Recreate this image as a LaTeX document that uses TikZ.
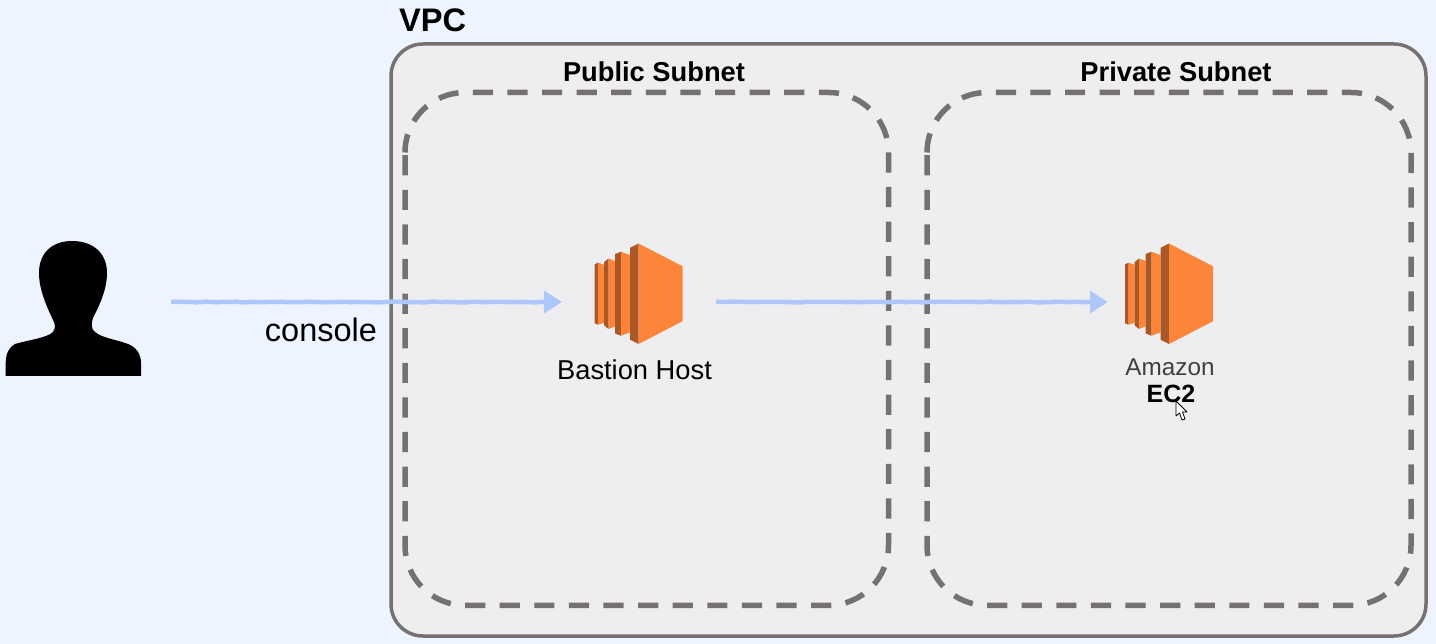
\documentclass[tikz,border=0pt]{standalone}
\usepackage{fontspec}
\setmainfont{Liberation Sans}
\usetikzlibrary{arrows.meta}
\usetikzlibrary{decorations.pathmorphing}

\definecolor{PageBlue}{RGB}{237,244,255}
\definecolor{PanelGrey}{RGB}{238,238,241}
\definecolor{EdgeGrey}{RGB}{117,113,113}
\definecolor{LinkBlue}{RGB}{174,199,250}
\definecolor{OrangeFace}{RGB}{253,133,57}
\definecolor{OrangeDark}{RGB}{172,88,38}

\tikzset{
  subnet/.style={draw=EdgeGrey,line width=5.5pt,dash pattern=on 20.2pt off 14.4pt,dash phase=31.9pt,rounded corners=60pt},
  title/.style={font=\fontsize{27.3}{30}\selectfont\bfseries,inner sep=0pt},
  label/.style={font=\fontsize{27.3}{30}\selectfont,inner sep=0pt},
  slot/.style={inner sep=0pt,minimum height=20pt},
  link/.style={LinkBlue,line width=4.5pt,line join=round,-{Triangle[length=18pt,width=22pt]},
    decorate,decoration={random steps,segment length=5pt,amplitude=.35pt,post length=20pt}},
  % orange server block, origin at the middle of the front face
  pics/server/.style={code={
    \foreach \xa/\xb/\xc/\ha/\hb/\hc in {-44.3/-41/-35/29.5/31/29,-35/-30.5/-24/31.5/35.2/32.7,-24/-18/-9/39.7/42/38.7}{
      \fill[OrangeDark] (\xa,-\ha) -- (\xb,-\hb) -- (\xb,\hb) -- (\xa,\ha) -- cycle;
      \fill[OrangeFace] (\xb,-\hb) -- (\xc,-\hc) -- (\xc,\hc) -- (\xb,\hb) -- cycle;
    }
    \fill[OrangeDark] (-9,-46) -- (-.5,-50.25) -- (-.5,50.25) -- (-9,46) -- cycle;
    \fill[OrangeFace] (-.5,-50.25) -- (43.5,-27.5) -- (43.5,27.5) -- (-.5,50.25) -- cycle;
  }}
}

\begin{document}
\begin{tikzpicture}[x=1pt,y=-1pt]

  \fill[PageBlue] (0,0) rectangle (1436,644);
  \useasboundingbox (0,0) rectangle (1436,644);

  % VPC box and the two subnets
  \draw[fill=PanelGrey,draw=EdgeGrey,line width=3.5pt,rounded corners=32pt] (391,44) rectangle (1426,636);
  \draw[subnet] (405,92.5) rectangle (888.5,605.3);
  \draw[subnet] (927,92.5) rectangle (1411,605.3);

  \node[anchor=base west,inner sep=0pt,font=\fontsize{32.6}{36}\selectfont\bfseries] (vpc) at (399,32) {VPC};
  \node[title] (public) at (654,72) {Public Subnet};
  \node[title] (private) at (1176,72) {Private Subnet};

  % user silhouette
  \fill[black] (5.7,376) -- (5.7,363) .. controls (5.7,354) and (9,347) .. (15,344)
    .. controls (28,340) and (47,338) .. (53,332) .. controls (56,328) and (55,323) .. (53,320)
    .. controls (47,307) and (39,290) .. (39,273) .. controls (39,253) and (52,241) .. (72,241)
    .. controls (93,241) and (107,253) .. (107,273) .. controls (107,290) and (99,306) .. (93,318)
    .. controls (91,324) and (91,329) .. (95,332) .. controls (102,338) and (118,340) .. (128,344)
    .. controls (136,347) and (141,354) .. (141,363) -- (141,376) -- cycle;

  \pic at (639,293.75) {server};
  \pic at (1169.5,293.75) {server};

  % invisible slots the connectors attach to
  \node[slot,minimum width=196pt] (user) at (73,302) {};
  \node[slot,minimum width=154pt] (bastion) at (639,302) {};
  \node[slot,minimum width=122pt] (ec2) at (1169,302) {};

  \draw[link] (user) -- (bastion);
  \draw[link] (bastion) -- (ec2);

  \node[inner sep=0pt,font=\fontsize{32.5}{36}\selectfont] (console) at (321,329.5) {console};
  \node[label] (bastionlabel) at (634.5,370) {Bastion Host};
  \node[inner sep=0pt,font=\fontsize{24.3}{27}\selectfont,text=black!75] (amazon) at (1170,367) {Amazon};
  \node[inner sep=0pt,font=\fontsize{25}{27}\selectfont\bfseries] (ec2label) at (1171,394) {EC2};

  % mouse pointer
  \draw[fill=white,draw=black,line width=.8pt,line join=round] (1176,401) -- (1176,416) -- (1179.5,413) -- (1182,420) -- (1185,419) -- (1182.5,412) -- (1187,412) -- cycle;

\end{tikzpicture}
\end{document}
